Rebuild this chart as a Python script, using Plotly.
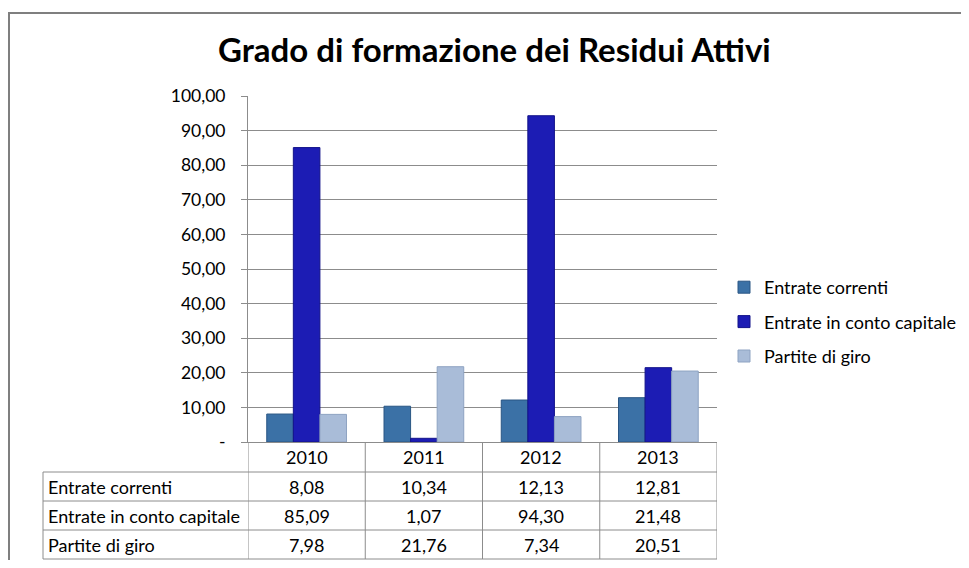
import plotly.graph_objects as go

years = ["2010", "2011", "2012", "2013"]
series_names = ["Entrate correnti", "Entrate in conto capitale", "Partite di giro"]
entrate_correnti = [8.08, 10.34, 12.13, 12.81]
entrate_capitale = [85.09, 1.07, 94.30, 21.48]
partite_giro = [7.98, 21.76, 7.34, 20.51]
y_ticks = [0, 10, 20, 30, 40, 50, 60, 70, 80, 90, 100]

series_values = [entrate_correnti, entrate_capitale, partite_giro]
colors = ["#3B71A6", "#1C1CB4", "#A9BCD8"]
line_colors = ["#2A5684", "#12128A", "#8EA3C2"]

FONT = "Lato, 'Open Sans', sans-serif"
OFF = 8  # page body margin
W, H = 969 - 2 * OFF, 568 - 2 * OFF
L, R, T, B = 240, 244, 88, 118
plot_h = H - T - B
plot_w = W - L - R


def fmt(v):
    return f"{v:.2f}".replace(".", ",")


def py(ref_px):
    return (H - B - (ref_px - OFF)) / plot_h


def pxx(ref_px):
    return (ref_px - OFF - L) / plot_w


fig = go.Figure()
for i, (name, vals) in enumerate(zip(series_names, series_values)):
    fig.add_trace(go.Bar(
        x=years, y=vals, name=name,
        marker=dict(color=colors[i], line=dict(color=line_colors[i], width=1)),
        legendgroup=name,
    ))

ticktext = ["-" if v == 0 else fmt(v) for v in y_ticks]

shapes = []
annotations = []

row_px = [442, 472, 501, 530, 559]
row_y = [py(p) for p in row_px]
gray = "#8C8C8C"
left_x = pxx(43)
TFS = 18

# vertical lines of the value columns
for k in range(len(years) + 1):
    shapes.append(dict(type="line", xref="x", yref="paper", x0=k - 0.5, x1=k - 0.5,
                       y0=row_y[0], y1=row_y[-1], line=dict(color=gray, width=1)))
# horizontal lines
for ry in row_y[1:]:
    shapes.append(dict(type="line", xref="paper", yref="paper", x0=left_x, x1=1,
                       y0=ry, y1=ry, line=dict(color=gray, width=1)))
# left label column edge
shapes.append(dict(type="line", xref="paper", yref="paper", x0=left_x, x1=left_x,
                   y0=row_y[1], y1=row_y[-1], line=dict(color=gray, width=1)))
# outer chart border (top and left visible)
shapes.append(dict(type="rect", xref="paper", yref="paper",
                   x0=pxx(9), x1=pxx(969 + 30), y0=py(13), y1=py(568 + 30),
                   line=dict(color="#7F7F7F", width=2), layer="below"))

# year header row
for k, yr in enumerate(years):
    annotations.append(dict(x=k, xref="x", yref="paper", y=(row_y[0] + row_y[1]) / 2,
                            text=yr, showarrow=False, font=dict(family=FONT, size=TFS, color="black"),
                            xanchor="center", yanchor="middle"))
# data rows
for r, (name, vals) in enumerate(zip(series_names, series_values)):
    yc = (row_y[r + 1] + row_y[r + 2]) / 2
    annotations.append(dict(x=pxx(46), xref="paper", yref="paper", y=yc, text=name,
                            showarrow=False, font=dict(family=FONT, size=TFS, color="black"),
                            xanchor="left", yanchor="middle"))
    for k, v in enumerate(vals):
        annotations.append(dict(x=k, xref="x", yref="paper", y=yc, text=fmt(v),
                                showarrow=False, font=dict(family=FONT, size=TFS, color="black"),
                                xanchor="center", yanchor="middle"))

# title
annotations.append(dict(x=pxx(494), xref="paper", yref="paper", y=py(49),
                        text="<b>Grado di formazione dei Residui Attivi</b>", showarrow=False,
                        font=dict(family=FONT, size=33, color="black"),
                        xanchor="center", yanchor="middle"))

fig.update_layout(
    width=W, height=H,
    margin=dict(l=L, r=R, t=T, b=B, autoexpand=False),
    paper_bgcolor="white", plot_bgcolor="white",
    barmode="group", bargap=0.32, bargroupgap=0,
    font=dict(family=FONT, size=TFS, color="black"),
    showlegend=True,
    legend=dict(x=pxx(724), y=py(269), xanchor="left", yanchor="top",
                xref="paper", yref="paper",
                font=dict(family=FONT, size=18, color="black"),
                traceorder="grouped", tracegroupgap=8,
                itemwidth=30, bgcolor="rgba(0,0,0,0)"),
    shapes=shapes,
    annotations=annotations,
)
fig.update_xaxes(type="category", showticklabels=False, showgrid=False,
                 showline=True, linecolor=gray, linewidth=1, ticks="",
                 range=[-0.5, 3.5], fixedrange=True)
fig.update_yaxes(range=[0, 100], tickvals=y_ticks, ticktext=ticktext,
                 showgrid=True, gridcolor=gray, gridwidth=1,
                 showline=True, linecolor=gray, linewidth=1,
                 ticks="outside", ticklen=6, tickcolor=gray,
                 ticklabelstandoff=12, zeroline=False,
                 tickfont=dict(family=FONT, size=17.5, color="black"))

fig.write_html("out.html")
